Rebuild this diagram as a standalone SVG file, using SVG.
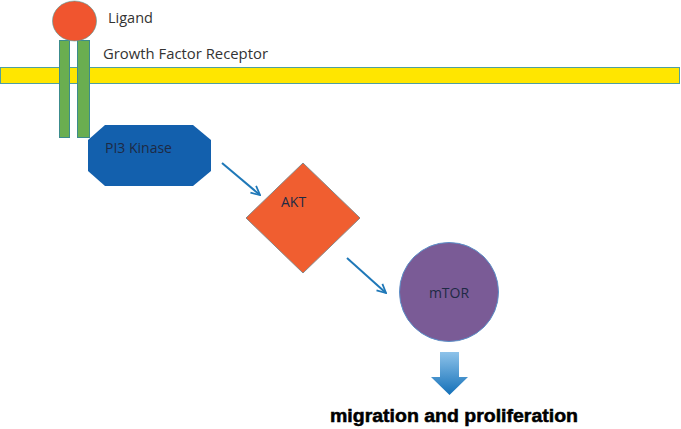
<svg xmlns="http://www.w3.org/2000/svg" width="681" height="429" viewBox="0 0 681 429">
<style>
.lbl{font-family:"Open Sans","Liberation Sans",sans-serif;font-size:14.5px;fill:#333}
.in{font-family:"Open Sans","Liberation Sans",sans-serif;font-size:14px;fill:#1e2a44}
.conn{stroke:#1f78b8;stroke-width:2;fill:none}
</style>
<defs>
<marker id="ah" viewBox="0 0 10 10" refX="9" refY="5" markerWidth="5.5" markerHeight="5.5" orient="auto">
<path d="M1,1 L9,5 L1,9" fill="none" stroke="#1f78b8" stroke-width="1.6"/>
</marker>
<linearGradient id="bg" x1="0" y1="0" x2="0" y2="1">
<stop offset="0" stop-color="#8ec3ea"/>
<stop offset="1" stop-color="#1470b8"/>
</linearGradient>
</defs>
<rect width="681" height="429" fill="#fff"/>
<g id="membrane"><rect x="0.5" y="67.5" width="679" height="16" fill="#ffe600" stroke="#4f9fa0" stroke-width="1"/></g>
<g id="receptor">
<rect x="59.5" y="40.5" width="10" height="97" fill="#6aae50" stroke="#3c8c8c" stroke-width="1"/>
<rect x="77.5" y="40.5" width="12" height="97" fill="#6aae50" stroke="#3c8c8c" stroke-width="1"/>
<text class="lbl" x="103" y="59" textLength="165" lengthAdjust="spacingAndGlyphs">Growth Factor Receptor</text>
</g>
<g id="ligand">
<ellipse cx="74.5" cy="21" rx="22" ry="20" fill="#f0552f" stroke="#4f9fa0" stroke-width="0.6"/>
<text class="lbl" x="108" y="23">Ligand</text>
</g>
<g id="pi3k">
<polygon points="105,125 193,125 211,140 211,171 193,186 105,186 88,171 88,140" fill="#1360ad"/>
<text class="in" x="105" y="153">PI3 Kinase</text>
</g>
<g id="akt">
<polygon points="246,218 303,163 360,218 303,273" fill="#f05e30" stroke="#888" stroke-width="1"/>
<text class="in" x="281" y="207">AKT</text>
</g>
<g id="mtor">
<circle cx="449" cy="292" r="49.5" fill="#7a5b96" stroke="#5a8fc8" stroke-width="1"/>
<text class="in" x="449" y="298" text-anchor="middle">mTOR</text>
</g>
<g id="connectors">
<line class="conn" x1="222" y1="163" x2="260" y2="195" marker-end="url(#ah)"/>
<line class="conn" x1="347" y1="258" x2="386" y2="293" marker-end="url(#ah)"/>
<polygon points="440,352 459,352 459,377 468,377 449.5,395 431,377 440,377" fill="url(#bg)"/>
</g>
<g id="outcome">
<text x="330" y="422" font-family="Liberation Sans, Arial, sans-serif" font-weight="bold" font-size="18" fill="#000" stroke="#000" stroke-width="0.5" textLength="248" lengthAdjust="spacingAndGlyphs">migration and proliferation</text>
</g>
</svg>
